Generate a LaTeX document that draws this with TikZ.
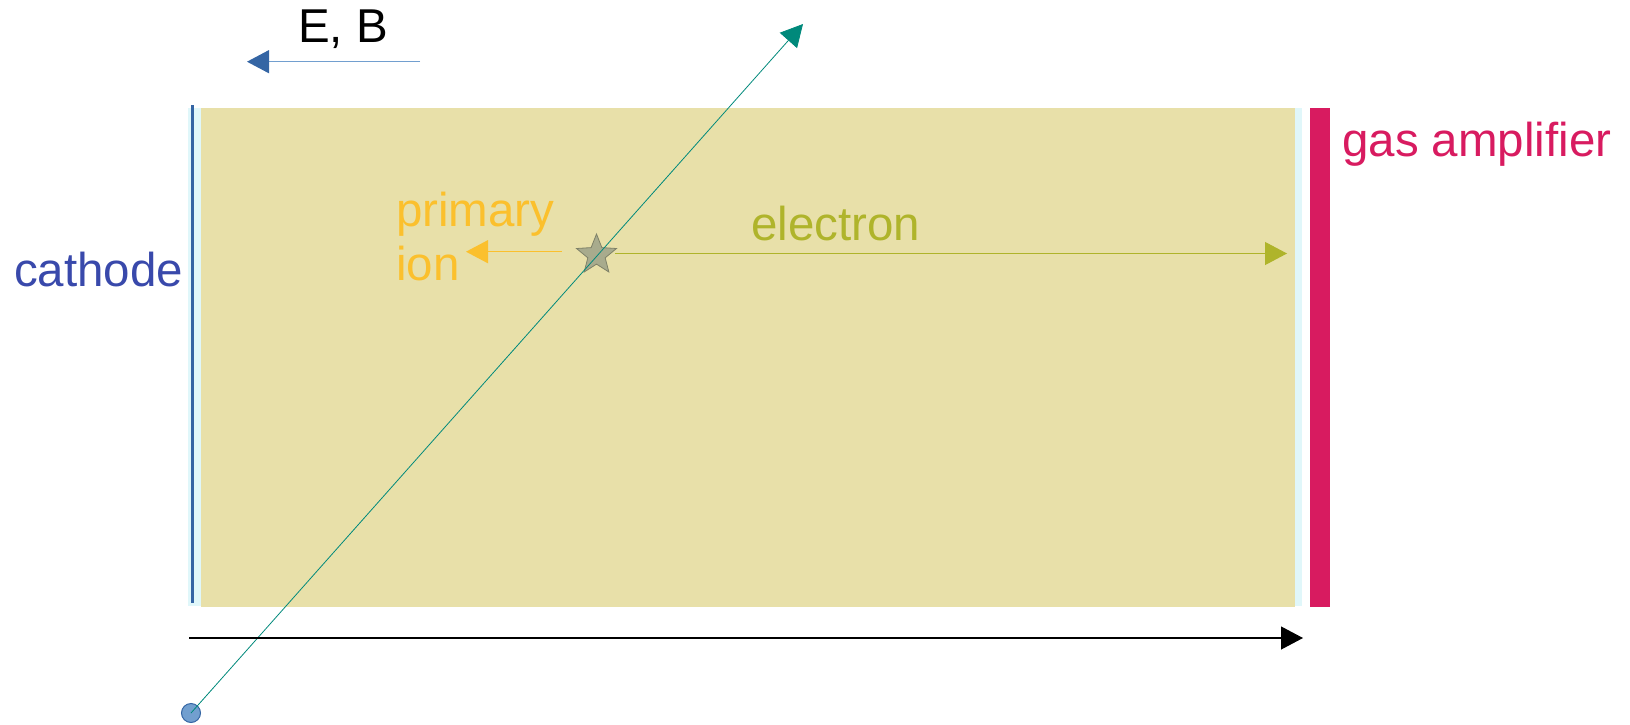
\documentclass[tikz,border=0pt]{standalone}
\usepackage{fontspec}
\setmainfont{Liberation Sans}
\usetikzlibrary{arrows.meta,shapes.geometric}
\definecolor{boxyellow}{HTML}{E8E0A9}
\definecolor{stripcyan}{HTML}{E0F7FA}
\definecolor{ampmag}{HTML}{D81B60}
\definecolor{cathblue}{HTML}{3949AB}
\definecolor{lineblue}{HTML}{3465A4}
\definecolor{lightblue}{HTML}{729FCF}
\definecolor{ionyellow}{HTML}{FBC02D}
\definecolor{elelime}{HTML}{AFB42B}
\definecolor{trackteal}{HTML}{00897B}
\definecolor{stargray}{HTML}{A8AB8D}
\definecolor{stardark}{HTML}{7E8168}
\tikzset{
  lbl/.style={inner sep=0pt, anchor=base west, font=\fontsize{47.5}{53}\selectfont},
  tri/.style={-{Triangle[length=22pt,width=23pt,color=#1]}},
}
\begin{document}
\begin{tikzpicture}[x=1pt,y=-1pt]
\useasboundingbox (0,0) rectangle (1630,725);
% strips and drift volume
\fill[stripcyan] (188,108) rectangle (201,606);
\fill[stripcyan] (1295,108) rectangle (1302,606);
\fill[boxyellow] (201,108) rectangle (1295,607);
\fill[ampmag] (1310,108) rectangle (1330,607);
\draw[lineblue, line width=2.5pt] (192.7,105) -- (192.7,603);
% labels
\node[lbl] (eb) at (298,43) {E, B};
\node[lbl, text=ampmag] (gas) at (1342,156.7) {gas amplifier};
\node[lbl, text=cathblue] (cath) at (14,286.7) {cathode};
\node[lbl, text=ionyellow] (prim) at (396,226.7) {primary};
\node[lbl, text=ionyellow] (ion) at (396,280) {ion};
\node[lbl, text=elelime] (elec) at (751,240.7) {electron};
% E,B arrow
\coordinate (ebs) at (420,61.7);
\coordinate (ebe) at (247,61.7);
\draw[lightblue, line width=1.3pt, tri=lineblue] (ebs) -- (ebe);
% star (interaction point)
\node[star, star points=5, star point ratio=2.3, minimum size=42pt, inner sep=0pt,
      fill=stargray, draw=stardark, line width=0.8pt] (star) at (596.5,255) {};
% ion and electron arrows
\coordinate (ions) at (562,251.7);
\coordinate (ione) at (466,251.7);
\draw[ionyellow, line width=1.2pt, tri=ionyellow] (ions) -- (ione);
\coordinate (eles) at (615,253.5);
\coordinate (elee) at (1287,253.5);
\draw[elelime, line width=1.1pt, tri=elelime] (eles) -- (elee);
% track
\node[circle, minimum size=19pt, inner sep=0pt, fill=lightblue, draw=lineblue, line width=1pt] (src) at (191,713) {};
\coordinate (trk) at (803,24);
\draw[trackteal, line width=0.8pt, tri=trackteal] (src.center) -- (trk);
% axis arrow
\coordinate (axs) at (189,638);
\coordinate (axe) at (1303,638);
\draw[black, line width=1.1pt, tri=black] (axs) -- (axe);
\end{tikzpicture}
\end{document}
